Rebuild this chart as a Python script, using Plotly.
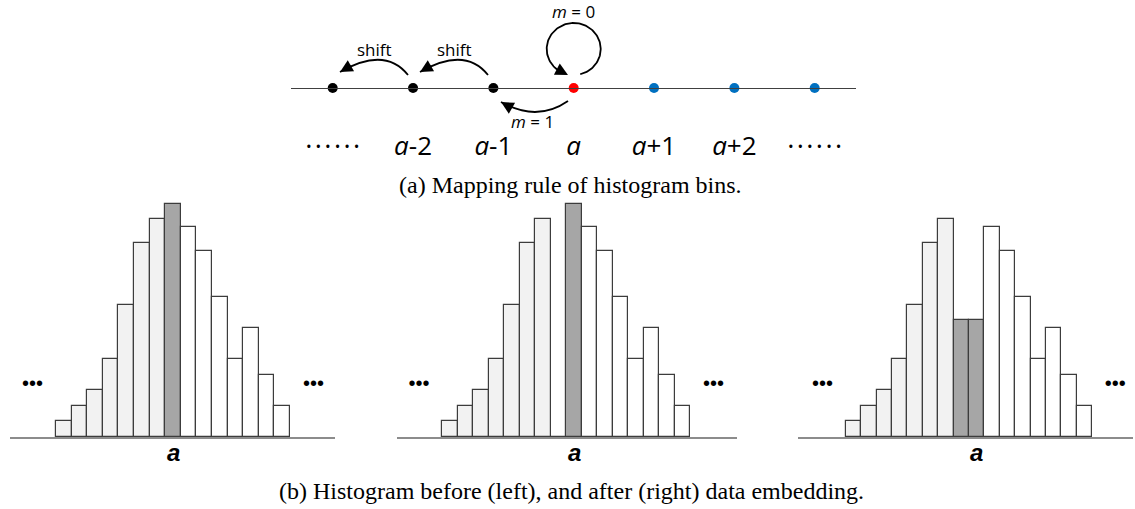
import numpy as np
import plotly.graph_objects as go

W, H = 1135, 509

# ---------------- data ----------------
# top number line
bin_offsets = [-3, -2, -1, 0, 1, 2, 3]
bin_labels = ["• • • • • •", "<i>a</i>-2", "<i>a</i>-1", "<i>a</i>", "<i>a</i>+1", "<i>a</i>+2", "• • • • • •"]
dot_colors = ["#000000", "#000000", "#000000", "#ff0000", "#0070c0", "#0070c0", "#0070c0"]

# histogram bin heights
left_side = [16, 31, 47, 78, 132, 194, 218]      # bins below a (light)
right_side = [210, 186, 140, 78, 109, 62, 31]     # bins above a (white)
hist_before = left_side + [233] + right_side
hist_after_m0 = left_side + [0, 233] + right_side
hist_after = left_side + [117, 117] + right_side

LIGHT, DARK, WHITE = "#f2f2f2", "#a6a6a6", "#ffffff"
colors_before = [LIGHT] * 7 + [DARK] + [WHITE] * 7
colors_after_m0 = [LIGHT] * 7 + [WHITE, DARK] + [WHITE] * 7
colors_after = [LIGHT] * 7 + [DARK, DARK] + [WHITE] * 7
a_index = [7, 8, 8]
a_label = "<b><i>a</i></b>"

panels = [
    dict(h=hist_before, c=colors_before, base=(10, 335), left=56.0, bw=15.6),
    dict(h=hist_after_m0, c=colors_after_m0, base=(397, 737), left=442.3, bw=15.5),
    dict(h=hist_after, c=colors_after, base=(798, 1133), left=845.7, bw=15.41),
]


def fx(px):
    return px / W


def fy(py):
    return 1 - py / H


fig = go.Figure()
layout = dict(
    width=W, height=H, margin=dict(l=0, r=0, t=0, b=0),
    paper_bgcolor="white", plot_bgcolor="rgba(0,0,0,0)",
    showlegend=False, bargap=0,
)
annotations = []
shapes = []

BASE_PY = 437
YMAX = 240
for i, p in enumerate(panels):
    n = i + 1
    xa = "x" if n == 1 else f"x{n}"
    ya = "y" if n == 1 else f"y{n}"
    idx = list(range(len(p["h"])))
    fig.add_trace(go.Bar(
        x=idx, y=p["h"], width=1, xaxis=xa, yaxis=ya,
        marker=dict(color=p["c"], line=dict(color="#3c3c3c", width=1.2)),
        hoverinfo="skip",
    ))
    # ellipsis marks either side
    fig.add_trace(go.Scatter(
        x=[-2, len(p["h"]) + 1], y=[52, 52], xaxis=xa, yaxis=ya,
        mode="text", text=["•••", "•••"],
        textfont=dict(family="Liberation Sans", size=20, color="black"),
        textposition="middle center", hoverinfo="skip", cliponaxis=False,
    ))
    x0 = -0.5 - (p["left"] - p["base"][0]) / p["bw"]
    x1 = x0 + (p["base"][1] - p["base"][0]) / p["bw"]
    layout["xaxis" if n == 1 else f"xaxis{n}"] = dict(
        domain=[fx(p["base"][0]), fx(p["base"][1])], range=[x0, x1],
        anchor=ya, showgrid=False, zeroline=False, showline=True,
        linecolor="#8c8c8c", linewidth=2, ticks="", showticklabels=False,
        fixedrange=True,
    )
    layout["yaxis" if n == 1 else f"yaxis{n}"] = dict(
        domain=[fy(BASE_PY), fy(BASE_PY - YMAX)], range=[0, YMAX],
        anchor=xa, visible=False, fixedrange=True,
    )
    annotations.append(dict(x=a_index[i], y=fy(452), xref=xa, yref="paper", text=a_label,
                            showarrow=False, xanchor="center", yanchor="middle",
                            font=dict(family="Liberation Sans", size=24, color="black")))

# ---------------- top number line ----------------
CX, SP, LINE_PY = 573.7, 80.33, 88


def px2x(px):
    return (px - CX) / SP


def py2y(py):
    return LINE_PY - py


layout["xaxis4"] = dict(
    domain=[fx(291), fx(856)], range=[px2x(291), px2x(856)],
    anchor="free", position=fy(LINE_PY), showline=True, linecolor="#404040",
    linewidth=1, showgrid=False, zeroline=False, showticklabels=False, ticks="",
    fixedrange=True,
)
layout["yaxis4"] = dict(domain=[0, 1], range=[py2y(H), py2y(0)], anchor="x4",
                        visible=False, fixedrange=True)

fig.add_trace(go.Scatter(
    x=bin_offsets, y=[0] * len(bin_offsets), xaxis="x4", yaxis="y4",
    mode="markers", marker=dict(size=10, color=dot_colors, line=dict(width=0)),
    hoverinfo="skip", cliponaxis=False,
))
label_sizes = [15, 26, 26, 26, 26, 26, 15]
fig.add_trace(go.Scatter(
    x=bin_offsets, y=[py2y(148)] * len(bin_offsets), xaxis="x4", yaxis="y4",
    mode="text", text=bin_labels,
    textfont=dict(family="Open Sans", size=label_sizes, color="black"),
    textposition="middle center", hoverinfo="skip", cliponaxis=False,
))


def bez_arrow(p0, c, p2):
    path = "M {:.4f},{:.4f} Q {:.4f},{:.4f} {:.4f},{:.4f}".format(
        px2x(p0[0]), py2y(p0[1]), px2x(c[0]), py2y(c[1]), px2x(p2[0]), py2y(p2[1]))
    shapes.append(dict(type="path", xref="x4", yref="y4", path=path,
                       line=dict(color="black", width=1.8)))
    d = np.array(p2, float) - np.array(c, float)
    d = d / np.linalg.norm(d)
    tail = -d * 14
    annotations.append(dict(x=px2x(p2[0]), y=py2y(p2[1]), xref="x4", yref="y4",
                            ax=float(tail[0]), ay=float(tail[1]), text="",
                            showarrow=True, arrowhead=2, arrowsize=1.4,
                            arrowwidth=1.8, arrowcolor="black"))


# shift arrows
bez_arrow((408, 75), (385, 46), (340, 72))
bez_arrow((488, 75), (465, 46), (420, 72))
# m = 1 arrow
bez_arrow((568, 101), (537, 122.5), (501, 102))

# m = 0 loop
lcx, lcy, rx, ry = 573.7, 49, 27, 26
th = np.radians(np.linspace(76, -232, 120))
fig.add_trace(go.Scatter(
    x=[px2x(lcx + rx * np.cos(t)) for t in th],
    y=[py2y(lcy + ry * np.sin(t)) for t in th],
    xaxis="x4", yaxis="y4", mode="lines", line=dict(color="black", width=1.8),
    hoverinfo="skip", cliponaxis=False,
))
tip = (568, 75)
tail_pt = (lcx + rx * np.cos(np.radians(-230)), lcy + ry * np.sin(np.radians(-230)))
annotations.append(dict(x=px2x(tip[0]), y=py2y(tip[1]), xref="x4", yref="y4",
                        ax=float(tail_pt[0] - tip[0]), ay=float(tail_pt[1] - tip[1]),
                        text="", showarrow=True, arrowhead=2, arrowsize=1.4,
                        arrowwidth=1.8, arrowcolor="black"))

top_font = dict(family="Open Sans", size=17, color="black")
for txt, (px, py) in [("shift", (374, 49)), ("shift", (454, 49)),
                      ("<i>m</i> = 0", (573, 11)), ("<i>m</i> = 1", (532, 121))]:
    annotations.append(dict(x=px2x(px), y=py2y(py), xref="x4", yref="y4", text=txt,
                            showarrow=False, font=top_font,
                            xanchor="center", yanchor="middle"))

cap_font = dict(family="Liberation Serif", size=24, color="black")
annotations.append(dict(x=fx(570), y=fy(185), xref="paper", yref="paper",
                        text="(a) Mapping rule of histogram bins.", showarrow=False,
                        font=cap_font, xanchor="center", yanchor="middle"))
annotations.append(dict(x=fx(571), y=fy(491), xref="paper", yref="paper",
                        text="(b) Histogram before (left), and after (right) data embedding.",
                        showarrow=False, font=cap_font, xanchor="center", yanchor="middle"))

layout["shapes"] = shapes
layout["annotations"] = annotations
fig.update_layout(**layout)
fig.write_html(
    "out.html",
    config={"displayModeBar": False},
    post_script="document.body.style.margin='0';document.body.style.overflow='hidden';",
)
